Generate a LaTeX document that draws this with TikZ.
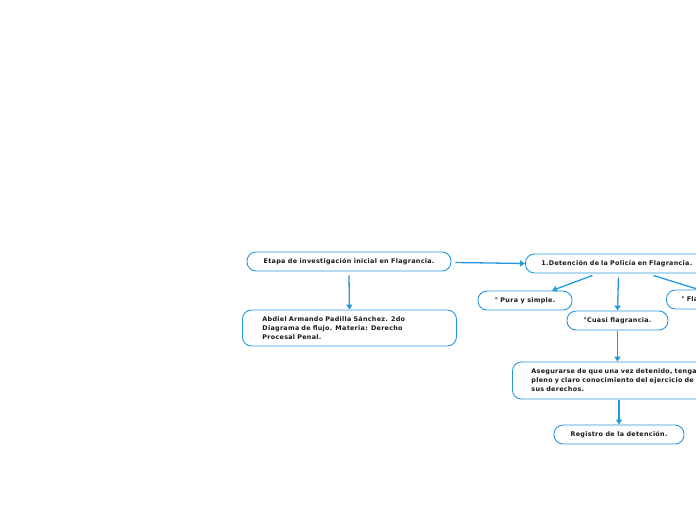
\documentclass[tikz,border=0pt]{standalone}
\usepackage{fontspec}
\setmainfont{DejaVu Sans}[LetterSpace=4.5]
\usetikzlibrary{arrows.meta}
\definecolor{mblue}{RGB}{38,152,222}
\tikzset{
  box/.style={draw=mblue, line width=0.9pt, rounded corners=9pt, fill=white, font=\bfseries\fontsize{6.4}{9}\selectfont, text=black!90, inner sep=0pt},
  lbox/.style={box, align=left, anchor=west},
  arr/.style={draw=mblue, line width=1.3pt, -{Triangle[length=5pt,width=6pt]}}
}
\begin{document}
\begin{tikzpicture}[x=1pt,y=-1pt]
\useasboundingbox (0,0) rectangle (696,520);
\clip (0,0) rectangle (696,520);
\node[box, minimum width=204pt, minimum height=19pt] (n1) at (349,261.5) {Etapa de investigación inicial en Flagrancia.};
\node[lbox, minimum width=214pt, minimum height=36pt, text width=174pt, inner xsep=20pt] (n2) at (242,328) {Abdiel Armando Padilla Sánchez. 2do\\Diagrama de flujo. Materia: Derecho\\Procesal Penal.};
\node[lbox, minimum width=190pt, minimum height=19pt, text width=158pt, inner xsep=16pt] (n3) at (525,263.5) {1.Detención de la Policía en Flagrancia.};
\node[box, minimum width=94pt, minimum height=19pt] (n4) at (525,300.5) {° Pura y simple.};
\node[lbox, minimum width=125pt, minimum height=19pt, text width=95pt, inner xsep=15pt] (n5) at (666,299.5) {° Flagrancia equiparada.};
\node[box, minimum width=101pt, minimum height=19pt] (n6) at (617.5,320.5) {°Cuasi flagrancia.};
\node[lbox, minimum width=250pt, minimum height=37pt, text width=220pt, inner xsep=19pt] (n7) at (512,380.5) {Asegurarse de que una vez detenido, tenga\\pleno y claro conocimiento del ejercicio de\\sus derechos.};
\node[box, minimum width=130pt, minimum height=19pt] (n8) at (619,434.5) {Registro de la detención.};
\draw[arr] ([xshift=4pt,yshift=-1pt]n1.east) -- (n3.west);
\draw[arr] ([yshift=-4pt]n1.south) -- (n2.north);
\draw[arr] ([xshift=-28pt,yshift=-2pt]n3.south) -- ([xshift=27pt]n4.north);
\draw[arr] ([xshift=-2pt,yshift=-4pt]n3.south) -- (n6.north);
\draw[arr] ([xshift=33pt,yshift=-2pt]n3.south) -- ([xshift=-27pt,yshift=-1pt]n5.north);
\draw[arr] ([yshift=-1pt]n6.south) -- (n6.south |- n7.north);
\draw[arr] ([yshift=-1pt]n8.north |- n7.south) -- (n8.north);
\end{tikzpicture}
\end{document}
